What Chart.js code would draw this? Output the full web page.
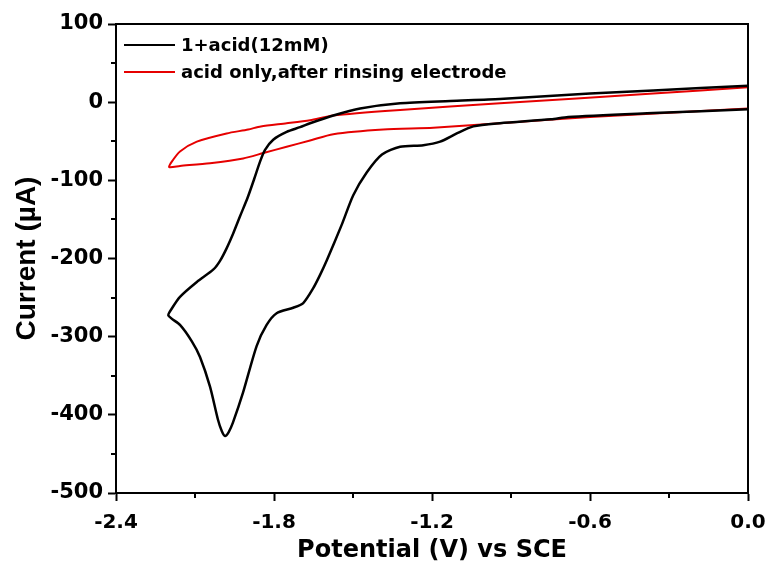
<!DOCTYPE html>
<html>
<head>
<meta charset="utf-8">
<script src="https://cdn.jsdelivr.net/npm/chart.js@4/dist/chart.umd.min.js"></script>
<style>
  html, body { margin: 0; padding: 0; background: #fff; }
  #wrap { width: 768px; height: 569px; }
</style>
</head>
<body>
<div id="wrap"><canvas id="cv" width="768" height="569"></canvas></div>
<script>
// ---- data ----
const blackLabel = '1+acid(12mM)';
const redLabel = 'acid only,after rinsing electrode';

// black: sweep 0 -> -2.2 V along the top branch, then back along the lower one
const blackV = [0.0, -0.36, -0.6, -0.942, -1.131, -1.321, -1.473, -1.575, -1.663, -1.701, -1.752, -1.803, -1.834, -1.853, -1.875, -1.9, -1.929, -1.955, -1.98, -2.005, -2.03, -2.093, -2.157, -2.188, -2.201,
  -2.157, -2.112, -2.081, -2.043, -2.013, -1.998, -1.986, -1.972, -1.956, -1.918, -1.866, -1.828, -1.79, -1.727, -1.689, -1.651, -1.625, -1.599, -1.543, -1.499, -1.448, -1.39, -1.321, -1.233, -1.169, -1.106, -1.043, -0.942, -0.748, -0.683, -0.36, 0.0];
const blackI = [21, 15, 11, 4, 1.5, -1.4, -8, -17, -27, -32, -38, -48, -61, -76, -98, -122, -146, -168, -187, -203, -214, -230, -249, -264, -273,
  -285, -306, -326, -364, -406, -421, -427, -422, -410, -372, -312, -285, -270, -263, -257, -238, -221, -202, -157, -119, -90, -67, -57, -55, -50.5, -40, -31, -27, -22, -19, -14, -9];

const redV = [0.0, -0.36, -0.942, -1.321, -1.575, -1.663, -1.752, -1.85, -1.898, -1.98, -2.093, -2.157, -2.188, -2.198,
  -2.157, -2.043, -1.917, -1.84, -1.752, -1.663, -1.575, -1.385, -1.195, -0.942, -0.6, 0.0];
const redI = [19, 11, -1.5, -10, -17, -23, -27, -31, -35, -40, -50.5, -63, -76, -83,
  -81.6, -78, -72, -65, -57, -49, -41, -35, -32.6, -27, -19, -8];

const xTicks = [-2.4, -1.8, -1.2, -0.6, 0.0];
const xMinor = [-2.1, -1.5, -0.9, -0.3];
const yTicks = [100, 0, -100, -200, -300, -400, -500];
const yMinor = [50, -50, -150, -250, -350, -450];

const FONT = 'DejaVu Sans';

function toPoints(xs, ys) {
    return xs.map((x, i) => ({ x: x, y: ys[i] }));
}

// frame, minor ticks and the legend in the top-left corner
const framePlugin = {
    id: 'frame',
    afterDraw(chart) {
        const { ctx, chartArea: a, scales } = chart;
        ctx.save();
        ctx.strokeStyle = '#000';
        ctx.lineWidth = 2;
        ctx.strokeRect(a.left, a.top, a.right - a.left, a.bottom - a.top);

        ctx.beginPath();
        xMinor.forEach(v => {
            const px = Math.round(scales.x.getPixelForValue(v));
            ctx.moveTo(px, a.bottom);
            ctx.lineTo(px, a.bottom + 5);
        });
        yMinor.forEach(v => {
            const py = Math.round(scales.y.getPixelForValue(v));
            ctx.moveTo(a.left, py);
            ctx.lineTo(a.left - 5, py);
        });
        ctx.stroke();

        // legend
        ctx.font = 'bold 18px "' + FONT + '"';
        ctx.textBaseline = 'middle';
        ctx.textAlign = 'left';
        chart.data.datasets.forEach((ds, i) => {
            const y = 45 + i * 27;
            ctx.strokeStyle = ds.borderColor;
            ctx.lineWidth = 2;
            ctx.beginPath();
            ctx.moveTo(124, y);
            ctx.lineTo(175, y);
            ctx.stroke();
            ctx.fillStyle = '#000';
            ctx.fillText(ds.label, 181, y + 1);
        });
        ctx.restore();
    }
};

new Chart(document.getElementById('cv'), {
    type: 'scatter',
    data: {
        datasets: [
            {
                label: blackLabel,
                data: toPoints(blackV, blackI),
                showLine: true,
                borderColor: '#000',
                borderWidth: 2.5,
                pointRadius: 0,
                tension: 0.25
            },
            {
                label: redLabel,
                data: toPoints(redV, redI),
                showLine: true,
                borderColor: '#e60000',
                borderWidth: 2,
                pointRadius: 0,
                tension: 0.25
            }
        ]
    },
    options: {
        responsive: false,
        animation: false,
        devicePixelRatio: 1,
        layout: { padding: { top: 24, right: 20, left: 0, bottom: 0 } },
        plugins: {
            legend: { display: false },
            tooltip: { enabled: false }
        },
        scales: {
            x: {
                type: 'linear',
                min: -2.4,
                max: 0,
                afterBuildTicks: (s) => { s.ticks = xTicks.map(v => ({ value: v })); },
                afterFit: (s) => { s.height = 76; s.paddingLeft = 0; s.paddingRight = 0; },
                ticks: {
                    color: '#000',
                    padding: 10,
                    maxRotation: 0,
                    font: { family: FONT, size: 20, weight: 'bold' },
                    callback: (v) => v.toFixed(1)
                },
                grid: { drawOnChartArea: false, tickLength: 8, color: '#000', tickWidth: 2 },
                border: { display: true, color: '#000', width: 2 },
                title: {
                    display: true,
                    text: 'Potential (V) vs SCE',
                    color: '#000',
                    padding: { top: 0, bottom: 4 },
                    font: { family: FONT, size: 24, weight: 'bold', lineHeight: 1.2 }
                }
            },
            y: {
                type: 'linear',
                min: -500,
                max: 100,
                afterBuildTicks: (s) => { s.ticks = yTicks.map(v => ({ value: v })); },
                afterFit: (s) => { s.width = 116; },
                ticks: {
                    color: '#000',
                    padding: 5,
                    font: { family: FONT, size: 21, weight: 'bold' }
                },
                grid: { drawOnChartArea: false, tickLength: 8, color: '#000', tickWidth: 2 },
                border: { display: true, color: '#000', width: 2 },
                title: {
                    display: true,
                    text: 'Current (\u00b5A)',
                    color: '#000',
                    padding: { top: 10, bottom: 0 },
                    font: { family: 'Liberation Sans', size: 28, weight: 'bold', lineHeight: 1.2 }
                }
            }
        }
    },
    plugins: [framePlugin]
});
</script>
</body>
</html>
